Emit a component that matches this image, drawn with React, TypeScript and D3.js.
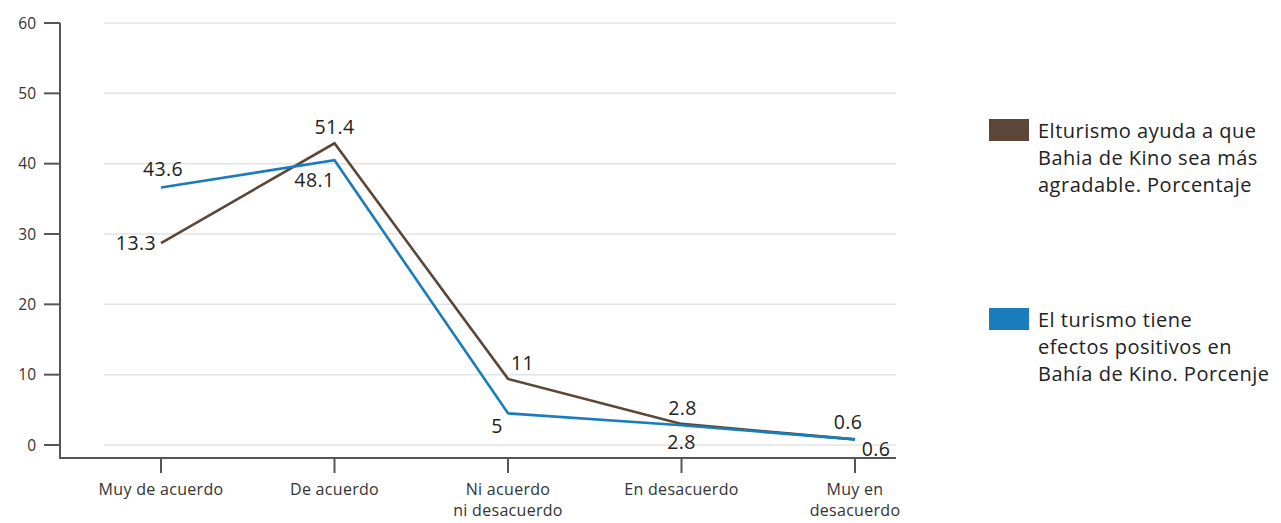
import React from "react";
import * as d3 from "d3";

// categories on the x axis
const categories = ["Muy de acuerdo", "De acuerdo", "Ni acuerdo ni desacuerdo", "En desacuerdo", "Muy en desacuerdo"];
const categoryLines = [["Muy de acuerdo"], ["De acuerdo"], ["Ni acuerdo", "ni desacuerdo"], ["En desacuerdo"], ["Muy en", "desacuerdo"]];

// plotted positions as drawn in the figure
const agradableValues = [28.7, 42.9, 9.4, 3.0, 0.8];
const positivosValues = [36.6, 40.5, 4.5, 2.8, 0.8];

// printed value labels
const agradableLabels = ["13.3", "51.4", "11", "2.8", "0.6"];
const positivosLabels = ["43.6", "48.1", "5", "2.8", "0.6"];

const yTicks = [0, 10, 20, 30, 40, 50, 60];

const agradableName = ["Elturismo ayuda a que", "Bahia de Kino sea más", "agradable. Porcentaje"];
const positivosName = ["El turismo tiene", "efectos positivos en", "Bahía de Kino. Porcenje"];

// label placement: [dx, dy, anchor]
const agradableOffsets: [number, number, string][] = [
  [-5, 7, "end"],
  [0, -9, "middle"],
  [3, -9, "start"],
  [1, -9, "middle"],
  [-7, -10, "middle"],
];
const positivosOffsets: [number, number, string][] = [
  [2, -12, "middle"],
  [0, 27, "end"],
  [-11, 20, "middle"],
  [0, 24, "middle"],
  [21, 17, "middle"],
];

const BROWN = "#5b4637";
const BLUE = "#1a7dbb";
const FONT = "'Open Sans', sans-serif";

export default function App() {
  const width = 1281;
  const height = 523;

  const x = d3.scalePoint<string>().domain(categories).range([161, 855]);
  const y = d3.scaleLinear().domain([0, 60]).range([445, 23]);

  const line = d3
    .line<number>()
    .x((_, i) => x(categories[i]) as number)
    .y((d) => y(d));

  const series = [
    { name: agradableName, values: agradableValues, labels: agradableLabels, offsets: agradableOffsets, color: BROWN, legendY: 119 },
    { name: positivosName, values: positivosValues, labels: positivosLabels, offsets: positivosOffsets, color: BLUE, legendY: 308 },
  ];

  return (
    <svg width={width} height={height} style={{ position: "absolute", left: 0, top: 0, background: "#fff" }}>
      {/* grid */}
      {yTicks.map((t) => (
        <line key={"g" + t} x1={104} x2={896} y1={y(t)} y2={y(t)} stroke="#e3e3e3" strokeWidth={1.5} />
      ))}

      {/* y axis */}
      <line x1={60} x2={60} y1={y(60)} y2={458} stroke="#555" strokeWidth={2} />
      {yTicks.map((t) => (
        <g key={"t" + t}>
          <line x1={44} x2={60} y1={y(t)} y2={y(t)} stroke="#555" strokeWidth={2} />
          <text x={36} y={y(t)} dy="0.36em" textAnchor="end" fontFamily={FONT} fontSize={15.5} fill="#333">
            {t}
          </text>
        </g>
      ))}

      {/* x axis */}
      <line x1={59} x2={896} y1={458} y2={458} stroke="#555" strokeWidth={2} />
      {categories.map((c, i) => (
        <g key={c}>
          <line x1={x(c)} x2={x(c)} y1={458} y2={473} stroke="#555" strokeWidth={2} />
          <text textAnchor="middle" fontFamily={FONT} fontSize={16} letterSpacing={0.3} fill="#333">
            {categoryLines[i].map((l, j) => (
              <tspan key={j} x={x(c)} y={495 + j * 21}>
                {l}
              </tspan>
            ))}
          </text>
        </g>
      ))}

      {/* lines */}
      {series.map((s) => (
        <path key={s.color} d={line(s.values) || ""} fill="none" stroke={s.color} strokeWidth={2.6} strokeLinejoin="miter" />
      ))}

      {/* value labels */}
      {series.map((s) =>
        s.values.map((v, i) => (
          <text
            key={s.color + i}
            x={(x(categories[i]) as number) + s.offsets[i][0]}
            y={y(v) + s.offsets[i][1]}
            textAnchor={s.offsets[i][2]}
            fontFamily={FONT}
            fontSize={19.5}
            letterSpacing={0.4}
            fill="#222"
          >
            {s.labels[i]}
          </text>
        ))
      )}

      {/* legend */}
      {series.map((s) => (
        <g key={"l" + s.color}>
          <rect x={989} y={s.legendY} width={40} height={22} fill={s.color} />
          <text fontFamily={FONT} fontSize={20} letterSpacing={0.5} fill="#222">
            {s.name.map((l, j) => (
              <tspan key={j} x={1038} y={s.legendY + 19 + j * 27}>
                {l}
              </tspan>
            ))}
          </text>
        </g>
      ))}
    </svg>
  );
}
